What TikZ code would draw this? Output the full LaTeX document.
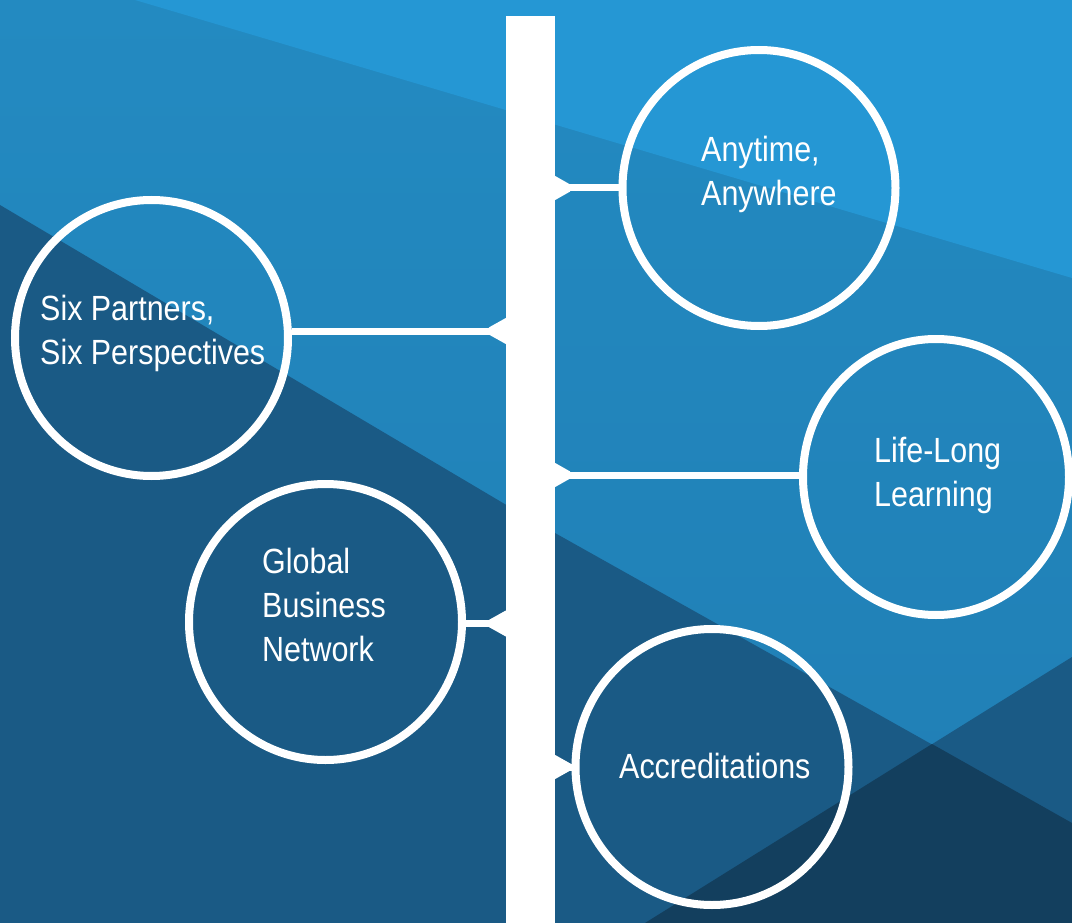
\documentclass[tikz,border=0pt]{standalone}
\usepackage{fontspec}
\setmainfont{Liberation Sans}[FakeStretch=0.87]
\usetikzlibrary{shapes.geometric}

\definecolor{midtop}{HTML}{238AC1}
\definecolor{midbot}{HTML}{207EB4}
\definecolor{skyblue}{HTML}{2597D4}
\definecolor{deepblue}{HTML}{1A5A85}
\definecolor{navyblue}{HTML}{133F5E}

\tikzset{
  bubble/.style={ellipse, draw=white, line width=8pt, inner sep=0pt,
                 minimum width=273pt, minimum height=276pt},
  pole/.style={rectangle, fill=white, inner sep=0pt,
               minimum width=49pt, minimum height=914pt},
  link/.style={draw=white, line width=7pt},
  wedge/.style={fill=white},
  caption/.style={text=white, inner sep=0pt, anchor=base west,
                  font=\fontsize{35}{44}\selectfont},
}

\begin{document}
\begin{tikzpicture}[x=1pt, y=-1pt]
\useasboundingbox (0,0) rectangle (1072,923);

% faceted background
\shade[top color=midtop, bottom color=midbot] (0,0) rectangle (1072,923);
\fill[skyblue] (135,0) -- (1072,0) -- (1072,278) -- cycle;
\fill[deepblue] (0,205) -- (530,519) -- (1072,823) -- (1072,923) -- (0,923) -- cycle;
\fill[deepblue] (645,923) -- (1072,657) -- (1072,923) -- cycle;
\fill[navyblue] (645,923) -- (932,744) -- (1072,823) -- (1072,923) -- cycle;

% central bar
\node[pole] (pole) at (530.5,473) {};

% topic bubbles
\node[bubble] (any)  at (759,188)   {};
\node[bubble] (six)  at (151.5,338) {};
\node[bubble, minimum width=266pt] (life) at (936,477) {};
\node[bubble] (glob) at (325.5,622) {};
\node[bubble] (accr) at (712,767)   {};

% heights of the links
\coordinate (anyY)  at (0,188);
\coordinate (sixY)  at (0,331);
\coordinate (lifeY) at (0,475);
\coordinate (globY) at (0,623.5);
\coordinate (accrY) at (0,767);

% links on the right of the bar
\draw[link] (pole.east |- anyY)  -- (any.west |- anyY);
\draw[link] (pole.east |- lifeY) -- (life.west |- lifeY);
\draw[link] (pole.east |- accrY) -- (accr.west |- accrY);
\fill[wedge] (pole.east |- anyY)  ++(0,-12) -- ++(15,8.5) -- ++(0,7) -- ++(-15,8.5) -- cycle;
\fill[wedge] (pole.east |- lifeY) ++(0,-12) -- ++(15,8.5) -- ++(0,7) -- ++(-15,8.5) -- cycle;
\fill[wedge] (pole.east |- accrY) ++(0,-12) -- ++(16,9) -- ++(0,6) -- ++(-16,9) -- cycle;

% links on the left of the bar
\draw[link] (pole.west |- sixY)  -- (six.east |- sixY);
\draw[link] (pole.west |- globY) -- (glob.east |- globY);
\fill[wedge] (pole.west |- sixY)  ++(0,-13) -- ++(-17,9.5) -- ++(0,7) -- ++(17,9.5) -- cycle;
\fill[wedge] (pole.west |- globY) ++(0,-13) -- ++(-17,9.5) -- ++(0,7) -- ++(17,9.5) -- cycle;

% captions
\node[caption] (anyT)  at (701,162) {\begin{tabular}[t]{@{}l@{}}Anytime,\\Anywhere\end{tabular}};
\node[caption] (sixT)  at (40,320)  {\begin{tabular}[t]{@{}l@{}}Six Partners,\\Six Perspectives\end{tabular}};
\node[caption] (lifeT) at (874,462) {\begin{tabular}[t]{@{}l@{}}Life-Long\\Learning\end{tabular}};
\node[caption] (globT) at (262,573) {\begin{tabular}[t]{@{}l@{}}Global\\Business\\Network\end{tabular}};
\node[caption] (accrT) at (619,778) {Accreditations};
\end{tikzpicture}
\end{document}
